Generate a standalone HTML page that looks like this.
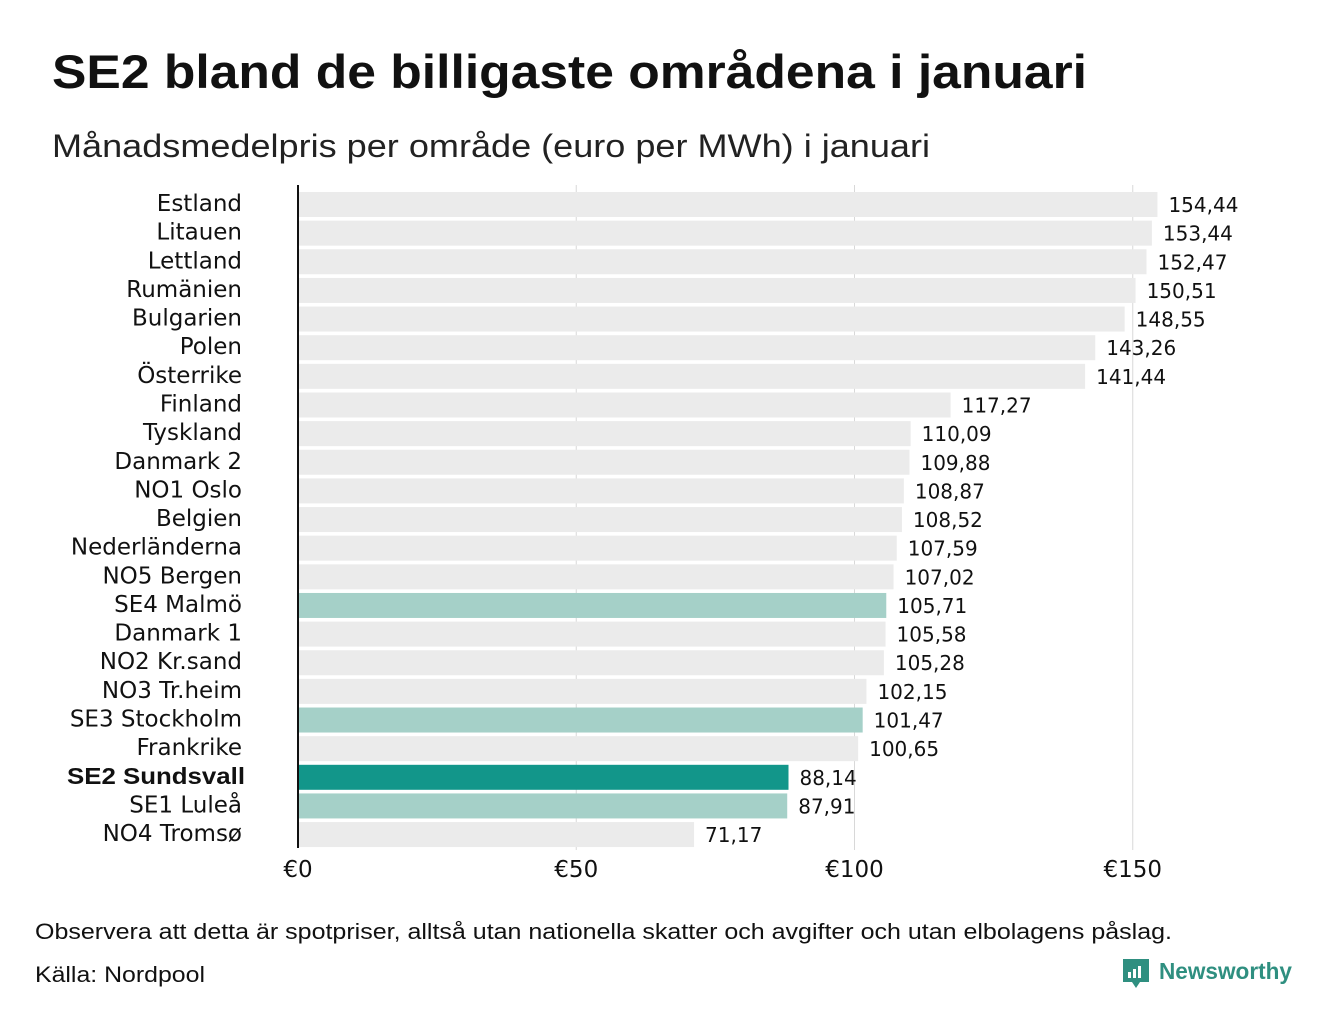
<!DOCTYPE html>
<html><head><meta charset="utf-8"><style>
body{margin:0;width:1340px;height:1020px;background:#fff;font-family:"Liberation Sans","DejaVu Sans",sans-serif;color:#111;overflow:hidden}
</style></head><body>
<svg width="1340" height="1020" xmlns="http://www.w3.org/2000/svg">
<text x="52" y="88" font-size="47" font-weight="bold" fill="#111" textLength="1035" lengthAdjust="spacingAndGlyphs">SE2 bland de billigaste områdena i januari</text>
<text x="52" y="157" font-size="32" fill="#222" textLength="878" lengthAdjust="spacingAndGlyphs">Månadsmedelpris per område (euro per MWh) i januari</text>
<g id="grid"></g><g id="bars"></g><g id="labels"></g>
<line x1="298" y1="185" x2="298" y2="848" stroke="#111" stroke-width="2"/>
<text x="35" y="939" font-size="22" fill="#111" textLength="1137" lengthAdjust="spacingAndGlyphs">Observera att detta är spotpriser, alltså utan nationella skatter och avgifter och utan elbolagens påslag.</text>
<text x="35" y="982" font-size="22" fill="#111" textLength="170" lengthAdjust="spacingAndGlyphs">Källa: Nordpool</text>
<g>
<path d="M1123 959h26v23h-9l-4 6-4-6h-9z" fill="#2f8f80"/>
<rect x="1128" y="972" width="3" height="6" fill="#fff"/><rect x="1133" y="969" width="3" height="9" fill="#fff"/><rect x="1138" y="966" width="3" height="12" fill="#fff"/>
<text x="1159" y="979" font-size="23" font-weight="bold" fill="#2f8f80" textLength="133" lengthAdjust="spacingAndGlyphs">Newsworthy</text>
</g>
</svg>
<script>
const categories=["Estland","Litauen","Lettland","Rumänien","Bulgarien","Polen","Österrike","Finland","Tyskland","Danmark  2","NO1 Oslo","Belgien","Nederländerna","NO5 Bergen","SE4  Malmö","Danmark  1","NO2 Kr.sand","NO3 Tr.heim","SE3  Stockholm","Frankrike","SE2 Sundsvall","SE1  Luleå","NO4 Tromsø"];
const values=[154.44,153.44,152.47,150.51,148.55,143.26,141.44,117.27,110.09,109.88,108.87,108.52,107.59,107.02,105.71,105.58,105.28,102.15,101.47,100.65,88.14,87.91,71.17];
const highlight=["none","none","none","none","none","none","none","none","none","none","none","none","none","none","se","none","none","none","se","none","main","se","none"];
const ticks=[0,50,100,150];
const tickLabels=["€0","€50","€100","€150"];
const NS="http://www.w3.org/2000/svg";
const x=v=>298+v*5.565;
const y=i=>192+i*28.64;
const colors={none:"#ebebeb",se:"#a5d0c8",main:"#12968a"};
const grid=document.getElementById('grid'),bars=document.getElementById('bars'),labels=document.getElementById('labels');
function mk(tag,attrs,parent){const e=document.createElementNS(NS,tag);for(const k in attrs)e.setAttribute(k,attrs[k]);parent.appendChild(e);return e;}
ticks.forEach((t,i)=>{
  if(t>0){const l=mk('line',{x1:x(t),x2:x(t),y1:185,y2:850,stroke:'#d8d8d8','stroke-width':1},grid);
  
  }
  const tx=mk('text',{x:x(t),y:877,'font-size':23,'text-anchor':'middle',fill:'#111','font-family':'DejaVu Sans, sans-serif'},labels);
  tx.textContent=tickLabels[i];
  
  
});
categories.forEach((c,i)=>{
  const r=mk('rect',{x:299,y:y(i),width:x(values[i])-299,height:25,fill:colors[highlight[i]]},bars);
  
  
  const main=highlight[i]==='main';
  const lb=mk('text',{x:main?245:242,y:y(i)+19,'font-size':23,'text-anchor':'end',fill:'#111','font-family':main?'Liberation Sans, sans-serif':'DejaVu Sans, sans-serif'},labels);
  if(main){lb.setAttribute('font-weight','bold');lb.setAttribute('textLength','178');lb.setAttribute('lengthAdjust','spacingAndGlyphs');}
  lb.setAttribute('xml:space','preserve');
  lb.textContent=c;
  
  
  const vl=mk('text',{x:x(values[i])+11,y:y(i)+20,'font-size':20,fill:'#111','font-family':'DejaVu Sans, sans-serif'},labels);
  vl.textContent=values[i].toFixed(2).replace('.',',');
  
  
});
</script>
</body></html>
